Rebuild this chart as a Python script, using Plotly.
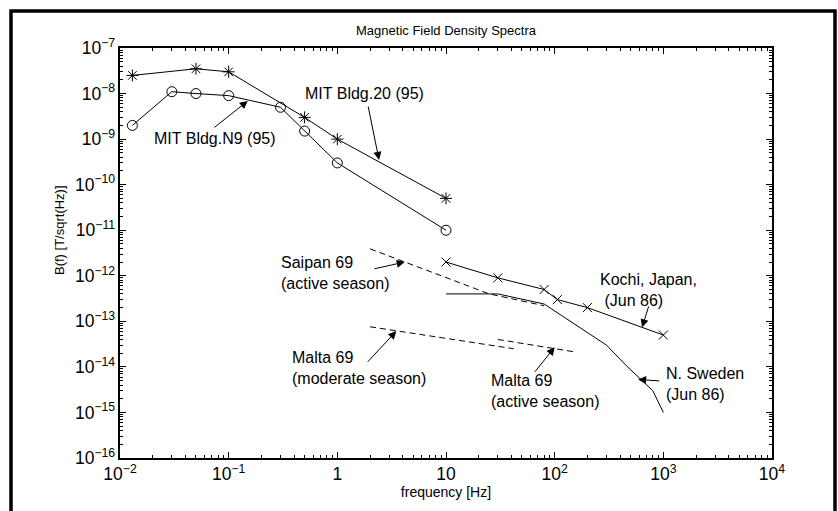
import numpy as np
import plotly.graph_objects as go

# ---------------- data ----------------
mit20_f = [0.013, 0.05, 0.1, 0.5, 1, 10]
mit20_b = [2.5e-8, 3.5e-8, 3.0e-8, 3.0e-9, 1.0e-9, 5.0e-11]

mitn9_f = [0.013, 0.03, 0.05, 0.1, 0.3, 0.5, 1, 10]
mitn9_b = [2.0e-9, 1.1e-8, 1.0e-8, 9.0e-9, 5.0e-9, 1.5e-9, 3.0e-10, 1.0e-11]

kochi_f = [10, 30, 80, 106, 200, 1000]
kochi_b = [2.0e-12, 9.0e-13, 5.0e-13, 3.0e-13, 2.0e-13, 5.0e-14]

sweden_f = [10, 30, 80, 300, 450, 800, 1000]
sweden_b = [4.0e-13, 4.0e-13, 2.4e-13, 3.0e-14, 1.1e-14, 3.0e-15, 1.0e-15]

saipan_f = [2, 25, 80]
saipan_b = [3.9e-12, 4.0e-13, 2.2e-13]

malta_mod_f = [2, 10, 42]
malta_mod_b = [7.6e-14, 4.3e-14, 2.5e-14]

malta_act_f = [30, 160]
malta_act_b = [4.0e-14, 2.1e-14]

# axis ranges in decades
x_decades = [-2, 4]
y_decades = [-16, -7]

# labels: (text, frequency, B, anchor)
labels = [
    ("MIT Bldg.20 (95)", 1.78, 1.01e-8, "center"),
    ("MIT Bldg.N9 (95)", 0.075, 1.04e-9, "center"),
    ("Saipan 69<br>(active season)", 0.29, 1.18e-12, "left"),
    ("Malta 69<br>(moderate season)", 0.364, 9.3e-15, "left"),
    ("Malta 69<br>(active season)", 24.9, 2.95e-15, "left"),
    ("Kochi, Japan,<br>&#160;(Jun 86)", 251, 4.95e-13, "left"),
    ("N. Sweden<br>(Jun 86)", 1016, 4.27e-15, "left"),
]

# arrows: (head f, head B, tail f, tail B)
arrows = [
    (2.42, 3.5e-10, 1.91, 5.6e-9),
    (0.150, 6.9e-9, 0.0716, 1.7e-9),
    (4.17, 2.0e-12, 2.13, 1.4e-12),
    (3.49, 6.1e-14, 1.85, 1.2e-14),
    (100, 2.7e-14, 64, 7.2e-15),
    (638, 7.4e-14, 740, 2.3e-13),
    (586, 5.3e-15, 948, 4.9e-15),
]

FONT = "Liberation Sans, Arial, Helvetica, sans-serif"

fig = go.Figure()

def line(f, b, dash="solid", marker=None, msize=9):
    kw = dict(x=f, y=b, mode="lines", line=dict(color="black", width=1, dash=dash),
              showlegend=False, hoverinfo="skip")
    if marker:
        kw["mode"] = "lines+markers"
        kw["marker"] = dict(symbol=marker, size=msize, color="black",
                            line=dict(color="black", width=1))
    fig.add_trace(go.Scatter(**kw))

line(mit20_f, mit20_b, marker="asterisk-open", msize=10)
line(mitn9_f, mitn9_b, marker="circle-open", msize=10)
line(kochi_f, kochi_b, marker="x-thin-open", msize=9)
line(sweden_f, sweden_b)
line(saipan_f, saipan_b, dash="6px,4px")
line(malta_mod_f, malta_mod_b, dash="6px,4px")
line(malta_act_f, malta_act_b, dash="6px,4px")

annos = []
for txt, f, b, anc in labels:
    annos.append(dict(x=np.log10(f), y=np.log10(b), xref="x", yref="y", text=txt,
                      showarrow=False, xanchor=anc, yanchor="middle", align="left",
                      font=dict(family=FONT, size=16, color="black")))
for hf, hb, tf, tb in arrows:
    annos.append(dict(x=np.log10(hf), y=np.log10(hb), ax=np.log10(tf), ay=np.log10(tb),
                      xref="x", yref="y", axref="x", ayref="y", text="",
                      showarrow=True, arrowhead=2, arrowsize=1.6, arrowwidth=1,
                      arrowcolor="black", standoff=0, startstandoff=0))

# y-axis title (placed slightly above the axis centre, as in the original)
annos.append(dict(x=(60 - 120) / 652, y=(458 - 230) / 410, xref="paper", yref="paper",
                  text="B(f) [T/sqrt(Hz)]", textangle=-90, showarrow=False,
                  xanchor="center", yanchor="middle",
                  font=dict(family=FONT, size=13, color="black")))

axis_common = dict(type="log", showline=True, linecolor="black", linewidth=2,
                   mirror="allticks", ticks="inside", ticklen=6, tickwidth=1,
                   tickcolor="black", showgrid=False, zeroline=False,
                   exponentformat="power", showexponent="all", dtick=1,
                   tickfont=dict(family=FONT, size=14, color="black"),
                   minor=dict(ticks="inside", ticklen=3, tickwidth=1,
                              tickcolor="black", dtick="D1", showgrid=False))

fig.update_xaxes(**axis_common, range=x_decades,
                 title=dict(text="frequency [Hz]", font=dict(family=FONT, size=14, color="black"),
                            standoff=2))
fig.update_yaxes(**axis_common, range=y_decades)

fig.update_layout(
    width=838, height=511,
    margin=dict(l=120, r=66, t=48, b=53),
    paper_bgcolor="white", plot_bgcolor="white",
    title=dict(text="Magnetic Field Density Spectra", x=446 / 838, xanchor="center",
               y=1 - 30 / 511, yanchor="middle",
               font=dict(family=FONT, size=13, color="black")),
    annotations=annos,
    shapes=[dict(type="rect", xref="paper", yref="paper",
                 x0=(11 - 120) / 652, x1=(835 - 120) / 652,
                 y0=(458 - 540) / 410, y1=(458 - 11) / 410,
                 line=dict(color="black", width=3.5), fillcolor="rgba(0,0,0,0)",
                 layer="above")],
)

fig.write_html("out.html")
